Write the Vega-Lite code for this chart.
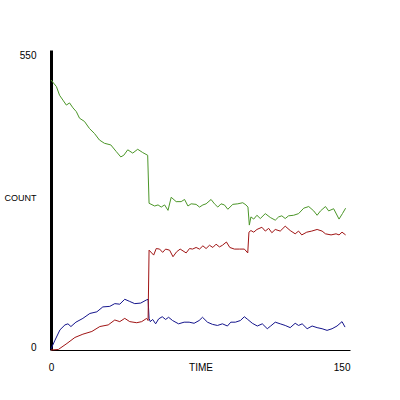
{
  "$schema": "https://vega.github.io/schema/vega-lite/v6.json",
  "width": 299,
  "height": 300,
  "autosize": {"type": "none"},
  "padding": {"left": 51, "top": 50, "right": 50, "bottom": 50},
  "background": "white",
  "config": {"view": {"stroke": null}, "font": "Liberation Sans"},
  "data": {"values": [
    {"s":"I","time":0,"count":2},{"s":"I","time":2,"count":18},{"s":"I","time":4.5,"count":37},{"s":"I","time":7,"count":46},{"s":"I","time":8.5,"count":48},{"s":"I","time":10,"count":43},{"s":"I","time":12.5,"count":51},{"s":"I","time":16,"count":58},{"s":"I","time":19.5,"count":67},{"s":"I","time":23,"count":70},{"s":"I","time":26,"count":79},{"s":"I","time":29.5,"count":80},{"s":"I","time":32,"count":85},{"s":"I","time":34.5,"count":84},{"s":"I","time":37,"count":93},{"s":"I","time":39.5,"count":89},{"s":"I","time":42,"count":85},{"s":"I","time":45,"count":86},{"s":"I","time":48,"count":92},{"s":"I","time":48.7,"count":93},{"s":"I","time":49.2,"count":58},{"s":"I","time":49.8,"count":52},{"s":"I","time":51,"count":56},{"s":"I","time":52.5,"count":48},{"s":"I","time":54,"count":57},{"s":"I","time":55.8,"count":61},{"s":"I","time":57.5,"count":56},{"s":"I","time":59,"count":60},{"s":"I","time":61,"count":54},{"s":"I","time":64,"count":48},{"s":"I","time":66.8,"count":51},{"s":"I","time":69.3,"count":51},{"s":"I","time":71.8,"count":49},{"s":"I","time":74.3,"count":54},{"s":"I","time":76,"count":60},{"s":"I","time":78.5,"count":51},{"s":"I","time":81,"count":47},{"s":"I","time":83.5,"count":45},{"s":"I","time":86,"count":48},{"s":"I","time":88.5,"count":44},{"s":"I","time":90.2,"count":51},{"s":"I","time":92.5,"count":51},{"s":"I","time":95,"count":54},{"s":"I","time":97,"count":61},{"s":"I","time":98.7,"count":56},{"s":"I","time":101,"count":49},{"s":"I","time":103.5,"count":44},{"s":"I","time":106,"count":48},{"s":"I","time":108.5,"count":39},{"s":"I","time":110.2,"count":44},{"s":"I","time":112.5,"count":51},{"s":"I","time":115,"count":48},{"s":"I","time":117.5,"count":45},{"s":"I","time":120,"count":41},{"s":"I","time":122.5,"count":49},{"s":"I","time":124.2,"count":45},{"s":"I","time":126,"count":48},{"s":"I","time":128.5,"count":39},{"s":"I","time":131,"count":44},{"s":"I","time":133.5,"count":41},{"s":"I","time":136,"count":39},{"s":"I","time":138.5,"count":36},{"s":"I","time":141,"count":39},{"s":"I","time":143.5,"count":44},{"s":"I","time":146,"count":52},{"s":"I","time":147.5,"count":42},
    {"s":"R","time":0,"count":0},{"s":"R","time":3.7,"count":1},{"s":"R","time":8,"count":12},{"s":"R","time":12,"count":23},{"s":"R","time":16,"count":29},{"s":"R","time":20.5,"count":34},{"s":"R","time":24.5,"count":43},{"s":"R","time":28.7,"count":46},{"s":"R","time":32,"count":55},{"s":"R","time":34.5,"count":52},{"s":"R","time":37,"count":58},{"s":"R","time":39.5,"count":52},{"s":"R","time":43,"count":50},{"s":"R","time":45.5,"count":52},{"s":"R","time":48,"count":58},{"s":"R","time":48.7,"count":54},{"s":"R","time":49.2,"count":183},{"s":"R","time":51.5,"count":174},{"s":"R","time":52.8,"count":186},{"s":"R","time":54.5,"count":185},{"s":"R","time":56,"count":179},{"s":"R","time":57.5,"count":185},{"s":"R","time":59.5,"count":183},{"s":"R","time":61.2,"count":171},{"s":"R","time":63,"count":180},{"s":"R","time":64.8,"count":185},{"s":"R","time":67.8,"count":178},{"s":"R","time":69.5,"count":186},{"s":"R","time":71,"count":185},{"s":"R","time":72.8,"count":188},{"s":"R","time":74.5,"count":185},{"s":"R","time":76.2,"count":191},{"s":"R","time":77.8,"count":186},{"s":"R","time":79.5,"count":192},{"s":"R","time":81.2,"count":188},{"s":"R","time":82.8,"count":194},{"s":"R","time":84.5,"count":189},{"s":"R","time":86,"count":192},{"s":"R","time":88,"count":198},{"s":"R","time":89.7,"count":188},{"s":"R","time":92,"count":185},{"s":"R","time":94.5,"count":185},{"s":"R","time":97,"count":185},{"s":"R","time":98.7,"count":178},{"s":"R","time":99.3,"count":216},{"s":"R","time":100.3,"count":219},{"s":"R","time":101.7,"count":216},{"s":"R","time":103.3,"count":221},{"s":"R","time":105.8,"count":225},{"s":"R","time":107.5,"count":218},{"s":"R","time":109.2,"count":223},{"s":"R","time":110.8,"count":215},{"s":"R","time":112.5,"count":221},{"s":"R","time":115,"count":218},{"s":"R","time":117.5,"count":227},{"s":"R","time":120,"count":219},{"s":"R","time":122.5,"count":213},{"s":"R","time":124.2,"count":218},{"s":"R","time":125.8,"count":211},{"s":"R","time":128.3,"count":216},{"s":"R","time":130.8,"count":218},{"s":"R","time":133.5,"count":221},{"s":"R","time":136,"count":218},{"s":"R","time":137.7,"count":213},{"s":"R","time":140.5,"count":211},{"s":"R","time":143,"count":213},{"s":"R","time":144.5,"count":211},{"s":"R","time":146,"count":216},{"s":"R","time":147.8,"count":211},
    {"s":"S","time":0,"count":495},{"s":"S","time":2.7,"count":483},{"s":"S","time":4.3,"count":467},{"s":"S","time":6,"count":458},{"s":"S","time":7.7,"count":449},{"s":"S","time":9.3,"count":453},{"s":"S","time":11,"count":444},{"s":"S","time":12.7,"count":437},{"s":"S","time":14.3,"count":425},{"s":"S","time":16.8,"count":419},{"s":"S","time":19.3,"count":406},{"s":"S","time":21.8,"count":397},{"s":"S","time":24.3,"count":385},{"s":"S","time":26.8,"count":379},{"s":"S","time":30,"count":376},{"s":"S","time":32.7,"count":364},{"s":"S","time":35,"count":354},{"s":"S","time":36.5,"count":357},{"s":"S","time":38.5,"count":367},{"s":"S","time":41,"count":361},{"s":"S","time":43.5,"count":368},{"s":"S","time":46,"count":362},{"s":"S","time":48.5,"count":357},{"s":"S","time":49.2,"count":269},{"s":"S","time":52,"count":264},{"s":"S","time":53.7,"count":266},{"s":"S","time":55.3,"count":262},{"s":"S","time":57,"count":266},{"s":"S","time":58.7,"count":256},{"s":"S","time":60.3,"count":280},{"s":"S","time":62.8,"count":272},{"s":"S","time":65.3,"count":272},{"s":"S","time":67,"count":276},{"s":"S","time":68.7,"count":264},{"s":"S","time":70.3,"count":268},{"s":"S","time":72.8,"count":267},{"s":"S","time":74.5,"count":262},{"s":"S","time":76.2,"count":266},{"s":"S","time":77.8,"count":268},{"s":"S","time":80.3,"count":276},{"s":"S","time":82,"count":268},{"s":"S","time":83.7,"count":262},{"s":"S","time":85.3,"count":268},{"s":"S","time":87,"count":266},{"s":"S","time":88.7,"count":258},{"s":"S","time":91.2,"count":267},{"s":"S","time":93.7,"count":268},{"s":"S","time":96.2,"count":270},{"s":"S","time":97.8,"count":266},{"s":"S","time":98.8,"count":262},{"s":"S","time":99.5,"count":229},{"s":"S","time":100.3,"count":244},{"s":"S","time":101.7,"count":240},{"s":"S","time":103.3,"count":247},{"s":"S","time":105,"count":241},{"s":"S","time":107.5,"count":250},{"s":"S","time":110,"count":243},{"s":"S","time":112.5,"count":238},{"s":"S","time":114.2,"count":244},{"s":"S","time":115.8,"count":246},{"s":"S","time":117.5,"count":241},{"s":"S","time":119.2,"count":246},{"s":"S","time":121.7,"count":247},{"s":"S","time":124.2,"count":250},{"s":"S","time":126.8,"count":260},{"s":"S","time":129.3,"count":263},{"s":"S","time":131.8,"count":255},{"s":"S","time":133.5,"count":247},{"s":"S","time":135.2,"count":255},{"s":"S","time":137.7,"count":263},{"s":"S","time":139.3,"count":255},{"s":"S","time":141.8,"count":259},{"s":"S","time":144.5,"count":240},{"s":"S","time":146.2,"count":250},{"s":"S","time":147.8,"count":260}
  ]},
  "mark": {"type": "line", "strokeWidth": 1},
  "encoding": {
    "x": {"field": "time", "type": "quantitative", "scale": {"domain": [0, 150], "nice": false, "zero": false},
      "axis": {"title": "TIME", "values": [0, 150], "ticks": false, "grid": false, "domainColor": "black", "domainWidth": 1,
        "labelFontSize": 10, "labelColor": "black", "labelPadding": 12,
        "labelAlign": {"condition": {"test": "datum.value == 0", "value": "center"}, "value": "right"},
        "titleFontSize": 10, "titleFontWeight": "normal", "titleColor": "black", "titleY": 17, "titleBaseline": "middle"}},
    "y": {"field": "count", "type": "quantitative", "scale": {"domain": [0, 550], "nice": false, "zero": false},
      "axis": {"title": "COUNT", "values": [0, 550], "ticks": false, "grid": false, "domainColor": "black", "domainWidth": 3,
        "labelFontSize": 10, "labelColor": "black", "labelPadding": 15,
        "labelBaseline": {"condition": {"test": "datum.value == 0", "value": "alphabetic"}, "value": "top"},
        "titleFontSize": 9, "titleFontWeight": "normal", "titleColor": "black", "titleAngle": 0, "titleX": -31, "titleY": 147, "titleAlign": "center", "titleBaseline": "middle"}},
    "color": {"field": "s", "type": "nominal", "legend": null,
      "scale": {"domain": ["I", "R", "S"], "range": ["#14148c", "#a01414", "#4b9628"]}}
  }
}
